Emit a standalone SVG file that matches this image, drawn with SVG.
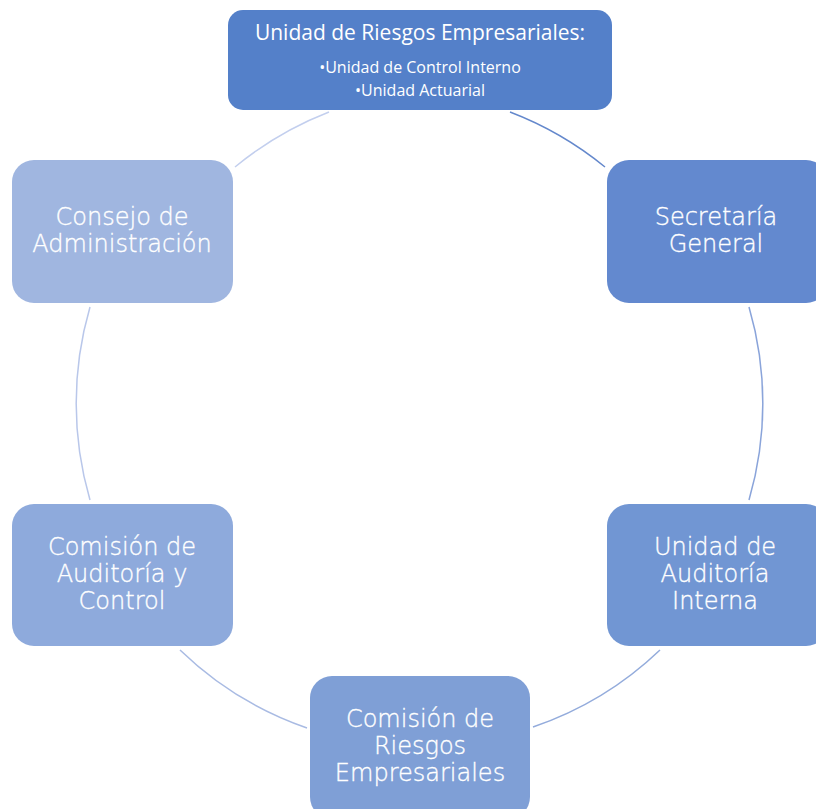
<svg xmlns="http://www.w3.org/2000/svg" width="816" height="809" viewBox="0 0 816 809">
<style>
.node text{fill:#ffffff;text-anchor:middle}
.lbl{font-family:"DejaVu Sans",sans-serif;font-size:24px;font-weight:200;stroke:#ffffff;stroke-width:0.35}
.ttl{font-family:"Open Sans","Liberation Sans",sans-serif;font-size:21px}
.sub{font-family:"Open Sans","Liberation Sans",sans-serif;font-size:16px}
.conn path{fill:none;stroke-width:1.5}
</style>
<rect width="816" height="809" fill="#ffffff"/>
<g id="connectors" class="conn">
<path d="M510,112 A344,344 0 0 1 605,167" stroke="#6488cc"/>
<path d="M749,307 A344,344 0 0 1 749,500" stroke="#8aa4da"/>
<path d="M660,650 A344,344 0 0 1 533,727" stroke="#94acdc"/>
<path d="M307,728 A344,344 0 0 1 180,650" stroke="#a9bbe3"/>
<path d="M90,500 A344,344 0 0 1 90,307" stroke="#b9c7ea"/>
<path d="M235,167 A344,344 0 0 1 329,112" stroke="#c3cfee"/>
</g>
<g id="node-top" class="node">
<rect x="228" y="10" width="384" height="100" rx="15" fill="#5480c9"/>
<text class="ttl" x="420" y="40">Unidad de Riesgos Empresariales:</text>
<text class="sub" x="420" y="73">•Unidad de Control Interno</text>
<text class="sub" x="420" y="96">•Unidad Actuarial</text>
</g>
<g id="node-secretaria" class="node">
<rect x="607" y="160" width="221" height="143" rx="22" fill="#6389cf"/>
<text class="lbl" x="716" y="225">Secretaría</text>
<text class="lbl" x="716" y="252">General</text>
</g>
<g id="node-auditoria-interna" class="node">
<rect x="607" y="504" width="221" height="142" rx="22" fill="#7196d3"/>
<text class="lbl" x="715" y="555">Unidad de</text>
<text class="lbl" x="715" y="582">Auditoría</text>
<text class="lbl" x="715" y="609">Interna</text>
</g>
<g id="node-comision-riesgos" class="node">
<rect x="310" y="676" width="220" height="143" rx="22" fill="#7f9fd6"/>
<text class="lbl" x="420" y="727">Comisión de</text>
<text class="lbl" x="420" y="754">Riesgos</text>
<text class="lbl" x="420" y="781">Empresariales</text>
</g>
<g id="node-comision-auditoria" class="node">
<rect x="12" y="504" width="221" height="142" rx="22" fill="#8eaadc"/>
<text class="lbl" x="122" y="555">Comisión de</text>
<text class="lbl" x="122" y="582">Auditoría y</text>
<text class="lbl" x="122" y="609">Control</text>
</g>
<g id="node-consejo" class="node">
<rect x="12" y="160" width="221" height="143" rx="22" fill="#a0b6e0"/>
<text class="lbl" x="122" y="225">Consejo de</text>
<text class="lbl" x="122" y="252">Administración</text>
</g>
</svg>
